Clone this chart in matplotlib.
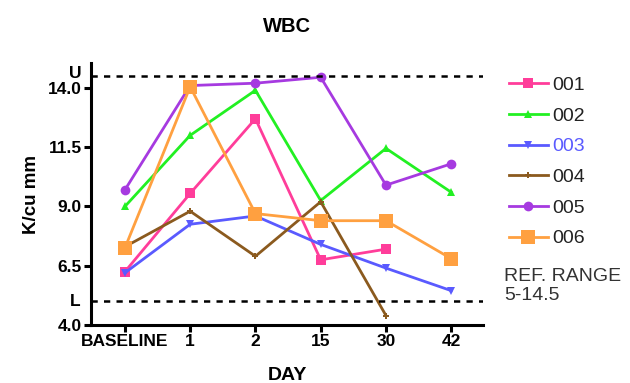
import matplotlib
matplotlib.use("Agg")
import matplotlib.pyplot as plt
import numpy as np

plt.rcParams['font.family'] = ['Liberation Sans', 'DejaVu Sans']

days = ["BASELINE", "1", "2", "15", "30", "42"]
subjects = ["001", "002", "003", "004", "005", "006"]

wbc_001 = [6.25, 9.55, 12.7, 6.75, 7.2, None]
wbc_002 = [9.0, 12.0, 13.9, 9.25, 11.45, 9.6]
wbc_003 = [6.2, 8.25, 8.6, 7.4, 6.4, 5.45]
wbc_004 = [7.3, 8.8, 6.9, 9.2, 4.4, None]
wbc_005 = [9.7, 14.1, 14.2, 14.45, 9.9, 10.8]
wbc_006 = [7.25, 14.05, 8.7, 8.4, 8.4, 6.8]

ref_low = 5.0
ref_high = 14.5
y_ticks = [4.0, 6.5, 9.0, 11.5, 14.0]

series = [wbc_001, wbc_002, wbc_003, wbc_004, wbc_005, wbc_006]
colors = ["#FF3D9A", "#22F022", "#5A5AFF", "#8B5A1E", "#A63AE0", "#FFA040"]
markers = ["s", "^", "v", "P", "o", "s"]
msizes = [7, 6, 6, 5, 7, 10]

fig = plt.figure(figsize=(6.3, 3.83), dpi=100)
ax = fig.add_axes([0.1444, 0.1514, 0.6226, 0.684])

x = np.arange(len(days))
handles = []
for vals, c, m, ms, name in zip(series, colors, markers, msizes, subjects):
    arr = np.array([np.nan if v is None else v for v in vals], dtype=float)
    ok = ~np.isnan(arr)
    h, = ax.plot(x[ok], arr[ok], color=c, marker=m, markersize=ms,
                 linewidth=2, markeredgewidth=0, label=name)
    handles.append(h)

ax.axhline(ref_high, color="black", linestyle=(0, (2.5, 2.5)), linewidth=1.8)
ax.axhline(ref_low, color="black", linestyle=(0, (2.5, 2.5)), linewidth=1.8)

ax.set_xlim(-0.52, 5.49)
ax.set_ylim(4.0, 15.05)
ax.set_xticks(x)
ax.set_xticklabels(days)
ax.set_yticks(y_ticks)
ax.set_yticklabels([f"{t:.1f}" for t in y_ticks])

for s in ["top", "right"]:
    ax.spines[s].set_visible(False)
for s in ["left", "bottom"]:
    ax.spines[s].set_linewidth(2.2)
ax.tick_params(axis="both", direction="out", length=5, width=2.2,
               labelsize=12.5, pad=1.5)
for lbl in ax.get_xticklabels() + ax.get_yticklabels():
    lbl.set_fontweight("bold")

for val, letter, dy in [(ref_high, "U", 3), (ref_low, "L", 0)]:
    ax.annotate(letter, xy=(0, val), xycoords=("axes fraction", "data"),
                xytext=(-16, dy), textcoords="offset pixels",
                ha="center", va="center", fontsize=12.5, fontweight="bold",
                annotation_clip=False)

ax.set_title("WBC", fontsize=14.5, fontweight="bold", pad=22)
ax.set_xlabel("DAY", fontsize=14, fontweight="bold", labelpad=13)
ax.set_ylabel("K/cu mm", fontsize=13.5, fontweight="bold", labelpad=6)

leg = fig.legend(handles=handles, loc="upper left",
                 bbox_to_anchor=(0.808, 0.8), frameon=False,
                 fontsize=14, handlelength=2.0, labelspacing=0.67,
                 handletextpad=0.2, borderpad=0, borderaxespad=0)
for t in leg.get_texts():
    t.set_color("#222222")
leg.get_texts()[2].set_color("#5A5AFF")

fig.text(0.8, 0.253, "REF. RANGE\n5-14.5", fontsize=14, color="#333333",
         ha="left", va="center", linespacing=1.2)

fig.savefig("out.png", dpi=100)
